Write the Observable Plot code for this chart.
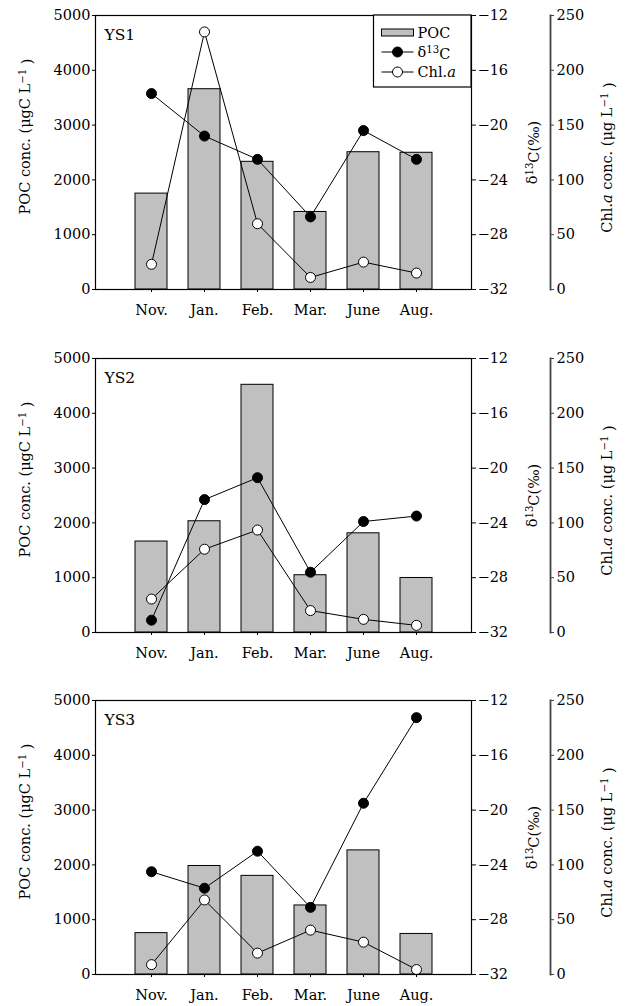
<!DOCTYPE html>
<html><head><meta charset="utf-8">
<script src="https://cdn.jsdelivr.net/npm/d3@7"></script>
<script src="https://cdn.jsdelivr.net/npm/@observablehq/plot@0.6"></script>
<style>
body{margin:0;background:#fff}
#chart svg{display:block}
</style>
</head><body><div id="chart"></div>
<script>
const months = ["Nov.", "Jan.", "Feb.", "Mar.", "June", "Aug."];
const stations = ["YS1", "YS2", "YS3"];

const pocYS1 = [1750, 3655, 2330, 1415, 2505, 2495];
const d13cYS1 = [-17.7, -20.8, -22.5, -26.7, -20.4, -22.5];
const chlYS1 = [23, 235, 60, 11, 25, 15];

const pocYS2 = [1660, 2030, 4520, 1045, 1810, 995];
const d13cYS2 = [-31.1, -22.3, -20.7, -27.6, -23.9, -23.5];
const chlYS2 = [30.5, 76, 93.5, 20, 12, 6.5];

const pocYS3 = [755, 1980, 1800, 1260, 2265, 740];
const d13cYS3 = [-24.5, -25.7, -23.0, -27.1, -19.5, -13.25];
const chlYS3 = [9, 68, 19.5, 40.5, 29.5, 4.5];

const pocTicks = [0, 1000, 2000, 3000, 4000, 5000];
const d13cTicks = [-32, -28, -24, -20, -16, -12];
const chlTicks = [0, 50, 100, 150, 200, 250];

const P_MAX = 5000, D_MIN = -32, D_MAX = -12, C_MAX = 250;
const fromD = v => (v - D_MIN) / (D_MAX - D_MIN) * P_MAX;
const toD = y => y / P_MAX * (D_MAX - D_MIN) + D_MIN;
const fromC = v => v / C_MAX * P_MAX;
const toC = y => y / P_MAX * C_MAX;
const fmt = v => (v < 0 ? "\u2212" + Math.abs(v) : String(v));

const FONT = "DejaVu Serif";
const CHL_DX = 79;

function rich(el, parts) {
  el.textContent = "";
  const ns = "http://www.w3.org/2000/svg";
  let shift = 0;
  for (const p of parts) {
    const ts = document.createElementNS(ns, "tspan");
    ts.textContent = p.t;
    let target = p.sup ? -0.45 : 0;
    const dy = target - shift;
    if (dy !== 0) ts.setAttribute("dy", dy + "em");
    shift = target;
    if (p.sup) ts.setAttribute("font-size", "70%");
    if (p.it) ts.setAttribute("font-style", "italic");
    el.appendChild(ts);
  }
}

function panel(name, poc, d13c, chl, height, marginTop, marginBottom, withLegend) {
  const rows = months.map((m, i) => ({month: m, poc: poc[i], d: fromD(d13c[i]), c: fromC(chl[i])}));
  const svg = Plot.plot({
    width: 628,
    height,
    marginLeft: 95,
    marginRight: 157,
    marginTop,
    marginBottom,
    style: {fontFamily: FONT, fontSize: "14.5px", color: "#000", background: "#fff", overflow: "visible"},
    x: {type: "band", domain: months, paddingInner: 0.4, paddingOuter: 0.72},
    y: {domain: [0, P_MAX]},
    marks: [
      Plot.barY(rows, {x: "month", y: "poc", fill: "#c0c0c0", stroke: "#000", strokeWidth: 1}),
      Plot.line(rows, {x: "month", y: "d", stroke: "#000", strokeWidth: 1}),
      Plot.line(rows, {x: "month", y: "c", stroke: "#000", strokeWidth: 1}),
      Plot.dot(rows, {x: "month", y: "d", r: 5, fill: "#000", stroke: "#000", strokeWidth: 1}),
      Plot.dot(rows, {x: "month", y: "c", r: 5, fill: "#fff", stroke: "#000", strokeWidth: 1}),
      Plot.frame({stroke: "#000", strokeWidth: 1.2}),
      Plot.axisY({ticks: pocTicks, anchor: "left", tickSize: 3, tickPadding: 2, tickFormat: d => String(d), label: null}),
      Plot.axisY({ticks: d13cTicks.map(fromD), anchor: "right", tickSize: 4, tickPadding: 2, tickFormat: y => fmt(Math.round(toD(y))), label: null}),
      Plot.axisY({ticks: chlTicks.map(fromC), anchor: "right", dx: CHL_DX, tickSize: 3, tickPadding: 3, stroke: "#444", tickFormat: y => String(Math.round(toC(y))), label: null}),
      Plot.frame({anchor: "right", dx: CHL_DX, stroke: "#444", strokeWidth: 1.8}),
      Plot.axisX({tickSize: 3, tickPadding: 12, label: null}),
      Plot.text([name], {frameAnchor: "top-left", dx: 9, dy: 13, lineAnchor: "top", textAnchor: "start", fontSize: 15.5}),
      Plot.text(["POC_LABEL"], {frameAnchor: "left", dx: -70, dy: -16, rotate: -90, textAnchor: "middle", lineAnchor: "middle"}),
      Plot.text(["D13C_LABEL"], {frameAnchor: "right", dx: 61, rotate: -90, textAnchor: "middle", lineAnchor: "middle"}),
      Plot.text(["CHL_LABEL"], {frameAnchor: "right", dx: 136, dy: 5, rotate: -90, textAnchor: "middle", lineAnchor: "middle"})
    ]
  });
  for (const t of svg.querySelectorAll("text")) {
    const s = t.textContent;
    if (s === "POC_LABEL") rich(t, [{t: "POC conc. (\u03bcgC L"}, {t: "\u22121", sup: true}, {t: " )"}]);
    else if (s === "D13C_LABEL") rich(t, [{t: "\u03b4"}, {t: "13", sup: true}, {t: "C(\u2030)"}]);
    else if (s === "CHL_LABEL") rich(t, [{t: "Chl."}, {t: "a", it: true}, {t: " conc. (\u03bcg L"}, {t: "\u22121", sup: true}, {t: " )"}]);
  }
  if (withLegend) {
    const g = d3.select(svg).append("g").attr("font-family", FONT).attr("font-size", 14.5).attr("text-anchor", "start");
    const x0 = 373.5, y0 = marginTop;
    g.append("rect").attr("x", x0).attr("y", y0).attr("width", 97.5).attr("height", 72)
      .attr("fill", "#fff").attr("stroke", "#000").attr("stroke-width", 1.2);
    g.append("rect").attr("x", x0 + 8).attr("y", y0 + 14).attr("width", 32).attr("height", 7)
      .attr("fill", "#c0c0c0").attr("stroke", "#000");
    g.append("line").attr("x1", x0 + 8).attr("x2", x0 + 40).attr("y1", y0 + 37).attr("y2", y0 + 37).attr("stroke", "#000");
    g.append("circle").attr("cx", x0 + 24).attr("cy", y0 + 37).attr("r", 5).attr("fill", "#000").attr("stroke", "#000");
    g.append("line").attr("x1", x0 + 8).attr("x2", x0 + 40).attr("y1", y0 + 57).attr("y2", y0 + 57).attr("stroke", "#000");
    g.append("circle").attr("cx", x0 + 24).attr("cy", y0 + 57).attr("r", 5).attr("fill", "#fff").attr("stroke", "#000");
    const t1 = g.append("text").attr("text-anchor", "start").attr("x", x0 + 44).attr("y", y0 + 17.5).attr("dy", "0.35em").node();
    rich(t1, [{t: "POC"}]);
    const t2 = g.append("text").attr("text-anchor", "start").attr("x", x0 + 44).attr("y", y0 + 37).attr("dy", "0.35em").node();
    rich(t2, [{t: "\u03b4"}, {t: "13", sup: true}, {t: "C"}]);
    const t3 = g.append("text").attr("text-anchor", "start").attr("x", x0 + 44).attr("y", y0 + 57).attr("dy", "0.35em").node();
    rich(t3, [{t: "Chl."}, {t: "a", it: true}]);
  }
  return svg;
}

const root = document.getElementById("chart");
root.appendChild(panel(stations[0], pocYS1, d13cYS1, chlYS1, 343, 15, 54, true));
root.appendChild(panel(stations[1], pocYS2, d13cYS2, chlYS2, 342, 15, 53, false));
root.appendChild(panel(stations[2], pocYS3, d13cYS3, chlYS3, 321, 15, 32, false));
</script>
</body></html>
